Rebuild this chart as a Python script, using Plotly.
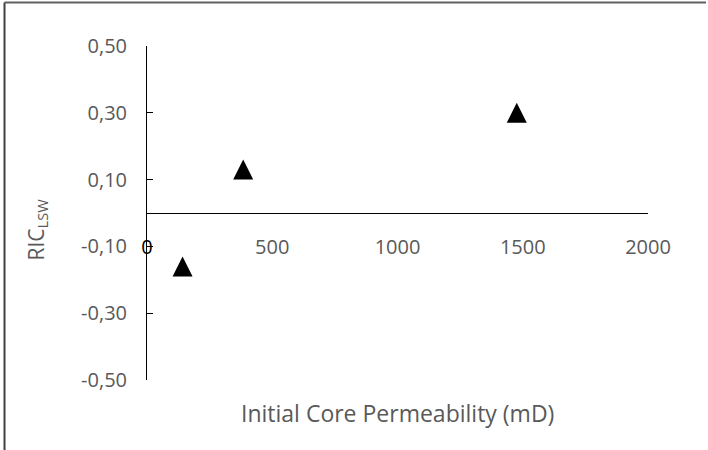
import plotly.graph_objects as go

# Data
permeability_md = [142, 384, 1476]
ric_lsw = [-0.16, 0.13, 0.30]

x_tickvals = [0, 500, 1000, 1500, 2000]
x_ticktext = ["<span style='color:#000000'>0</span>", "500", "1000", "1500", "2000"]
y_tickvals = [-0.5, -0.3, -0.1, 0.1, 0.3, 0.5]
y_ticktext = ["-0,50", "-0,30", "-0,10", "0,10", "0,30", "0,50"]

FONT = "Open Sans"
GRAY = "#595959"

fig = go.Figure()
fig.add_trace(go.Scatter(
    x=permeability_md, y=ric_lsw, mode="markers",
    marker=dict(symbol="arrow-down", angle=180, standoff=10, size=20,
                color="#000000", line=dict(width=0)),
    showlegend=False, hoverinfo="x+y",
))

fig.update_layout(
    width=708, height=450,
    margin=dict(l=147, r=60, t=46, b=70),
    paper_bgcolor="white", plot_bgcolor="white",
    font=dict(family=FONT, size=20, color=GRAY),
    xaxis=dict(
        range=[0, 2000], tickvals=x_tickvals, ticktext=x_ticktext,
        showgrid=False, zeroline=False, showline=False, ticks="",
        anchor="free", position=0.44,
        tickfont=dict(family=FONT, size=20, color=GRAY),
    ),
    yaxis=dict(
        range=[-0.5, 0.5], tickvals=y_tickvals, ticktext=y_ticktext,
        showgrid=False, zeroline=True, zerolinecolor="#000000", zerolinewidth=1,
        showline=True, linecolor="#000000", linewidth=1,
        ticks="inside", ticklen=6, tickcolor="#000000", tickwidth=1,
        ticklabelstandoff=15,
        tickfont=dict(family=FONT, size=20, color=GRAY),
    ),
    annotations=[
        dict(text="Initial Core Permeability (mD)", xref="paper", yref="paper",
             x=0.5, y=-0.1, xanchor="center", yanchor="middle", showarrow=False,
             font=dict(family=FONT, size=23, color=GRAY)),
        dict(text="RIC<sub>LSW</sub>", xref="paper", yref="paper",
             x=-0.22, y=0.45, xanchor="center", yanchor="middle", showarrow=False,
             textangle=-90, font=dict(family=FONT, size=21, color=GRAY)),
    ],
    shapes=[
        dict(type="line", xref="paper", yref="paper", x0=-0.2844, x1=-0.2844,
             y0=1.1302, y1=-0.2096, line=dict(color="#404040", width=2)),
        dict(type="line", xref="paper", yref="paper", x0=-0.2844, x1=1.1158,
             y0=1.1302, y1=1.1302, line=dict(color="#606060", width=2)),
    ],
)

fig.write_html("out.html")
